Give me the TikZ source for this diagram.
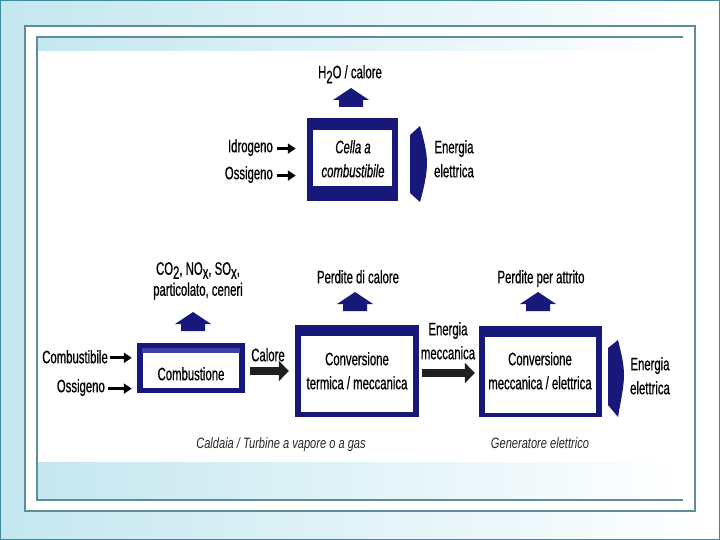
\documentclass[tikz,border=0pt]{standalone}
\usepackage{fontspec}
\setmainfont{Liberation Sans}[FakeStretch=0.63, FakeBold=0.6]
\newfontfamily\capfont{Liberation Sans}[FakeStretch=0.74]
\usetikzlibrary{arrows.meta}
\definecolor{navy}{RGB}{24,24,122}
\definecolor{band}{RGB}{62,62,165}
\definecolor{bgcyan}{RGB}{196,231,240}
\definecolor{framec}{RGB}{96,142,152}
\definecolor{edgec}{RGB}{60,140,155}
\tikzset{
  lbl/.style={inner sep=0pt, align=center, font=\fontsize{18}{24}\selectfont},
  capt/.style={inner sep=0pt, font=\capfont\itshape\fontsize{15}{18}\selectfont, text=black!85},
  boxouter/.style={fill=navy, draw=none, inner sep=0pt},
  thinarrow/.style={line width=3pt, -{Triangle[length=8pt,width=10pt]}},
  fatarrow/.style={line width=8pt, draw=black!88, -{Triangle[length=10pt,width=20pt]}},
  uparr/.pic={\fill[navy] (0,0) -- (18,12) -- (12,12) -- (12,19) -- (-12,19) -- (-12,12) -- (-18,12) -- cycle;}
}
\newcommand\flowbox[7]{%
  \node[boxouter, minimum width=#4pt, minimum height=#5pt] (#1) at (#2,#3) {};
  \fill[white] ([xshift=6pt,yshift=-#6pt]#1.north west) rectangle ([xshift=-6pt,yshift=#7pt]#1.south east);
}
\begin{document}
\begin{tikzpicture}[x=1pt,y=-1pt]
\useasboundingbox (0,0) rectangle (720,540);
% background
\shade[left color=bgcyan, right color=white] (0,0) rectangle (720,540);
\draw[edgec, line width=1pt] (0.5,0.5) rectangle (719.5,539.5);
\filldraw[fill=white, draw=framec, line width=1.3pt] (25,26) rectangle (695,511);
\shade[left color=bgcyan, right color=white] (37,37) rectangle (683,500);
\fill[white] (37,51) rectangle (683,462);
\draw[framec, line width=1.2pt] (683,37) -- (37,37) -- (37,500) -- (683,500);

% ---------- fuel cell ----------
\flowbox{cella}{352.5}{159.5}{91}{83}{12}{15}
\node[lbl, anchor=north, font=\itshape\fontsize{18}{24}\selectfont] (cellat) at (353,140) {Cella a\\combustibile};
\node[lbl, anchor=north] (h2o) at (350,65) {H\raisebox{-5pt}{2}O / calore};
\pic at (351,88) {uparr};
\node[lbl, anchor=north east] (idro) at (273,139) {Idrogeno};
\node[lbl, anchor=north east] (ossi1) at (273,166) {Ossigeno};
\draw[thinarrow, shorten <=4pt, shorten >=11pt] ([yshift=-1pt]idro.east) -- ([yshift=-1pt]idro.east -| cella.west);
\draw[thinarrow, shorten <=4pt, shorten >=11pt] ([yshift=-1pt]ossi1.east) -- ([yshift=-1pt]ossi1.east -| cella.west);
\fill[navy] (410,135) -- (420,126) .. controls (424,140) and (427,152) .. (427,163)
  .. controls (427,174) and (424,188) .. (420,202) -- (410,193) -- cycle;
\node[lbl, anchor=north] (eel1) at (454,140) {Energia\\elettrica};

% ---------- thermal chain ----------
\flowbox{comb}{191}{368}{108}{50}{10}{5}
\fill[band] (142,348) rectangle (240,353);
\node[lbl, anchor=north] (combt) at (191,367) {Combustione};
\node[lbl, anchor=north] (emis) at (198,262) {CO\raisebox{-4pt}{2}, NO\raisebox{-4pt}{x}, SO\raisebox{-4pt}{x},\\[-3pt]particolato, ceneri};
\pic at (193,312) {uparr};
\node[lbl, anchor=north east] (combus) at (108,350) {Combustibile};
\node[lbl, anchor=north east] (ossi2) at (105,379) {Ossigeno};
\draw[thinarrow, shorten <=2pt, shorten >=5pt] ([yshift=-1pt]combus.east) -- ([yshift=-1pt]combus.east -| comb.west);
\draw[thinarrow, shorten <=3pt, shorten >=5pt] ([yshift=-1pt]ossi2.east) -- ([yshift=-1pt]ossi2.east -| comb.west);

\flowbox{conv1}{357}{371}{124}{92}{11}{5}
\node[lbl, anchor=north] (conv1t) at (357,352) {Conversione\\termica / meccanica};
\node[lbl, anchor=north] (perd1) at (358,270) {Perdite di calore};
\pic at (355,292) {uparr};
\node[lbl, anchor=north] (calore) at (268,348) {Calore};
\draw[fatarrow, shorten <=5pt, shorten >=6pt] ([yshift=-3pt]comb.east) -- ([yshift=-3pt]comb.east -| conv1.west);

\flowbox{conv2}{540.5}{371.5}{123}{91}{11}{4}
\node[lbl, anchor=north] (conv2t) at (540,352) {Conversione\\meccanica / elettrica};
\node[lbl, anchor=north] (perd2) at (541,270) {Perdite per attrito};
\pic at (538,292) {uparr};
\node[lbl, anchor=north] (emecc) at (448,322) {Energia\\meccanica};
\draw[fatarrow, shorten <=3pt, shorten >=4pt] ([yshift=-2pt]conv1.east) -- ([yshift=-2pt]conv1.east -| conv2.west);

\fill[navy] (608,348) -- (618,340) .. controls (621,352) and (624,364) .. (624,375)
  .. controls (624,386) and (621,400) .. (618,417) -- (608,405) -- cycle;
\node[lbl, anchor=north] (eel2) at (650,357) {Energia\\elettrica};

\node[capt, anchor=north] (cap1) at (281,437) {Caldaia / Turbine a vapore o a gas};
\node[capt, anchor=north] (cap2) at (540,437) {Generatore elettrico};
\end{tikzpicture}
\end{document}
